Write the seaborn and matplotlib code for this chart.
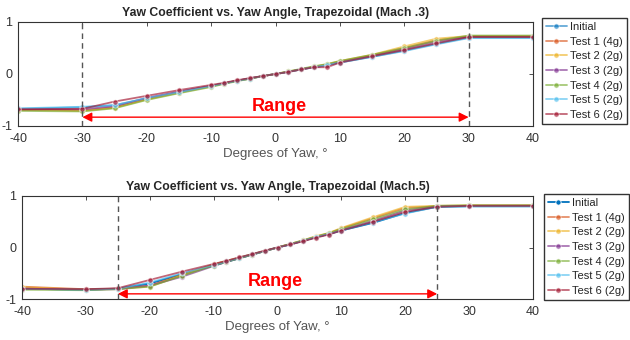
import matplotlib
matplotlib.use("Agg")
import matplotlib.pyplot as plt
import seaborn as sns
import pandas as pd

sns.set_theme(style="white")
plt.rcParams['font.family'] = ['Liberation Sans', 'DejaVu Sans']
plt.rcParams['axes.unicode_minus'] = False

yaw = [-40, -30, -25, -20, -15, -10, -8, -6, -4, -2, 0, 2, 4, 6, 8, 10, 15, 20, 25, 30, 40]
series_names = ["Initial", "Test 1 (4g)", "Test 2 (2g)", "Test 3 (2g)",
                "Test 4 (2g)", "Test 5 (2g)", "Test 6 (2g)"]

# Mach .3
m3_initial = [-0.67, -0.64, -0.60, -0.47, -0.35, -0.23, -0.18, -0.13, -0.09, -0.04, 0, 0.04, 0.09, 0.13, 0.17, 0.22, 0.33, 0.45, 0.58, 0.70, 0.70]
m3_test1 = [-0.68, -0.70, -0.64, -0.48, -0.35, -0.23, -0.18, -0.13, -0.09, -0.04, 0, 0.04, 0.09, 0.14, 0.18, 0.24, 0.36, 0.50, 0.65, 0.72, 0.72]
m3_test2 = [-0.69, -0.71, -0.65, -0.49, -0.36, -0.24, -0.18, -0.13, -0.09, -0.04, 0, 0.05, 0.09, 0.14, 0.19, 0.25, 0.37, 0.53, 0.68, 0.73, 0.73]
m3_test3 = [-0.68, -0.68, -0.62, -0.46, -0.34, -0.23, -0.18, -0.13, -0.08, -0.04, 0, 0.04, 0.09, 0.13, 0.17, 0.23, 0.35, 0.48, 0.62, 0.72, 0.72]
m3_test4 = [-0.71, -0.72, -0.66, -0.50, -0.37, -0.25, -0.19, -0.14, -0.09, -0.04, 0, 0.05, 0.10, 0.15, 0.19, 0.25, 0.37, 0.50, 0.64, 0.74, 0.74]
m3_test5 = [-0.66, -0.63, -0.60, -0.46, -0.35, -0.23, -0.18, -0.13, -0.09, -0.04, 0, 0.04, 0.09, 0.13, 0.17, 0.22, 0.33, 0.44, 0.57, 0.69, 0.69]
m3_test6 = [-0.68, -0.67, -0.53, -0.42, -0.31, -0.21, -0.17, -0.12, -0.08, -0.04, 0, 0.04, 0.09, 0.13, 0.13, 0.22, 0.34, 0.46, 0.59, 0.71, 0.71]

# Mach .5
m5_initial = [-0.80, -0.82, -0.80, -0.70, -0.52, -0.35, -0.28, -0.21, -0.14, -0.07, 0, 0.06, 0.13, 0.20, 0.26, 0.33, 0.48, 0.67, 0.79, 0.80, 0.80]
m5_test1 = [-0.76, -0.81, -0.80, -0.74, -0.53, -0.33, -0.26, -0.20, -0.13, -0.07, 0, 0.07, 0.13, 0.21, 0.27, 0.37, 0.57, 0.77, 0.80, 0.81, 0.81]
m5_test2 = [-0.77, -0.82, -0.80, -0.76, -0.54, -0.33, -0.26, -0.20, -0.13, -0.07, 0, 0.07, 0.14, 0.22, 0.28, 0.38, 0.59, 0.79, 0.81, 0.82, 0.82]
m5_test3 = [-0.80, -0.82, -0.81, -0.74, -0.57, -0.36, -0.28, -0.21, -0.14, -0.07, 0, 0.06, 0.13, 0.20, 0.26, 0.34, 0.52, 0.72, 0.80, 0.81, 0.81]
m5_test4 = [-0.82, -0.83, -0.81, -0.76, -0.55, -0.35, -0.28, -0.21, -0.14, -0.07, 0, 0.07, 0.14, 0.21, 0.28, 0.36, 0.55, 0.74, 0.81, 0.82, 0.82]
m5_test5 = [-0.80, -0.82, -0.80, -0.68, -0.50, -0.34, -0.27, -0.20, -0.13, -0.07, 0, 0.06, 0.13, 0.20, 0.26, 0.33, 0.49, 0.66, 0.79, 0.80, 0.80]
m5_test6 = [-0.80, -0.81, -0.79, -0.63, -0.47, -0.32, -0.26, -0.19, -0.13, -0.06, 0, 0.06, 0.12, 0.19, 0.25, 0.33, 0.50, 0.69, 0.79, 0.81, 0.81]

colors = ["#0072BD", "#D95319", "#EDB120", "#7E2F8E", "#77AC30", "#4DBEEE", "#A2142F"]

panels = [
    dict(title="Yaw Coefficient vs. Yaw Angle, Trapezoidal (Mach .3)",
         data=[m3_initial, m3_test1, m3_test2, m3_test3, m3_test4, m3_test5, m3_test6],
         limit=30, rect=[18/630, 1-126/340, 515/630, 104/340],
         range_y=-0.83, range_text=(0.6, -0.62), init_alpha=0.6,
         leg=(542/630, 1-18/340)),
    dict(title="Yaw Coefficient vs. Yaw Angle, Trapezoidal (Mach.5)",
         data=[m5_initial, m5_test1, m5_test2, m5_test3, m5_test4, m5_test5, m5_test6],
         limit=25, rect=[22/630, 1-299/340, 511/630, 103/340],
         range_y=-0.90, range_text=(-0.4, -0.66), init_alpha=1.0,
         leg=(544/630, 1-194/340)),
]

fig = plt.figure(figsize=(6.3, 3.4), dpi=100)

for p in panels:
    ax = fig.add_axes(p["rect"])
    frames = []
    for name, vals in zip(series_names, p["data"]):
        frames.append(pd.DataFrame({"yaw": yaw, "coef": vals, "series": name}))
    df = pd.concat(frames, ignore_index=True)
    for i, name in enumerate(series_names):
        alpha = p["init_alpha"] if i == 0 else 0.65
        sns.lineplot(data=df[df["series"] == name], x="yaw", y="coef", ax=ax,
                     color=colors[i], marker="o", markersize=3.8,
                     markeredgewidth=0.6, linewidth=1.3, alpha=alpha,
                     label=name, legend=False)

    lim = p["limit"]
    for xv in (-lim, lim):
        ax.axvline(xv, color="#555555", linestyle=(0, (4, 3)), linewidth=1.0, zorder=5)
    ax.annotate("", xy=(-lim, p["range_y"]), xytext=(lim, p["range_y"]),
                arrowprops=dict(arrowstyle="<|-|>", color="red", lw=1.0,
                                mutation_scale=14, shrinkA=0, shrinkB=0))
    ax.text(p["range_text"][0], p["range_text"][1], "Range", color="red",
            fontsize=13, fontweight="bold", ha="center", va="center")

    ax.set_xlim(-40, 40)
    ax.set_ylim(-1, 1)
    ax.set_xticks(range(-40, 41, 10))
    ax.set_yticks([-1, 0, 1])
    ax.set_xlabel("Degrees of Yaw, \u00b0", fontsize=9.5, color="#555555", labelpad=2)
    ax.set_ylabel("")
    ax.set_title(p["title"], fontsize=8.8, fontweight="bold", pad=4)
    ax.tick_params(direction="in", length=3, width=0.6, labelsize=9,
                   colors="#333333", top=True, right=True)
    ax.tick_params(axis="x", pad=5)
    ax.tick_params(axis="y", pad=4)
    for s in ax.spines.values():
        s.set_color("#333333")
        s.set_linewidth(0.8)

    handles, labels = ax.get_legend_handles_labels()
    fig.legend(handles, labels, loc="upper left", bbox_to_anchor=p["leg"],
               fontsize=8.0, frameon=True, fancybox=False, edgecolor="#333333",
               framealpha=1, handlelength=1.9, handletextpad=0.3,
               labelspacing=0.42, borderpad=0.35, borderaxespad=0)

fig.savefig("out.png", dpi=100)
